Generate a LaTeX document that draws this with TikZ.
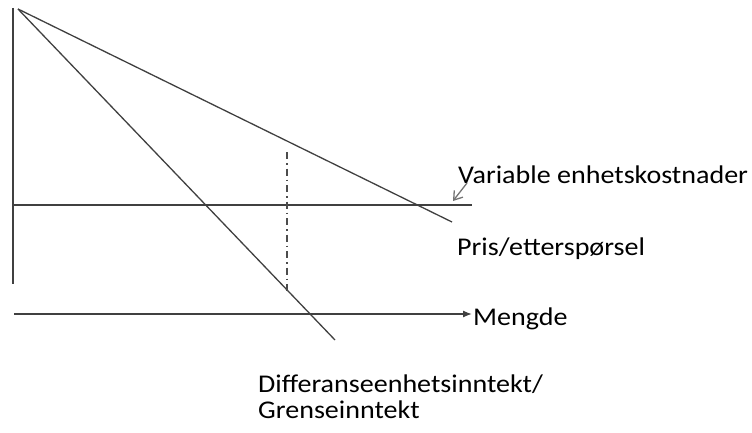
\documentclass[tikz,border=0pt]{standalone}
\usepackage{fontspec}
\setmainfont{Carlito}[FakeStretch=1.1]
\usetikzlibrary{arrows.meta}
\begin{document}
\begin{tikzpicture}[x=1pt,y=-1pt,
  ln/.style={draw=black!75,line width=1.3pt},
  lbl/.style={anchor=base west,inner sep=0pt,font=\fontsize{25.5}{26}\selectfont},
  dd/.style={draw=black!70,line width=1.2pt,dash pattern=on 7pt off 4pt on 1.5pt off 4pt}]
\useasboundingbox (0,0) rectangle (752,433);
\coordinate (vtop) at (13,8);
\coordinate (vbot) at (13,284);
\coordinate (o) at (18,9);
\coordinate (pe) at (452,222);
\coordinate (de) at (335,340);
\coordinate (hl) at (13,205);
\coordinate (hr) at (472,205);
\coordinate (ml) at (14,314);
\coordinate (mr) at (472,314);
\coordinate (dt) at (287,152);
\coordinate (db) at (287,292);
\draw[ln] (vtop) -- (vbot);
\draw[ln] (o) -- (pe);
\draw[ln] (o) -- (de);
\draw[ln] (hl) -- (hr);
\draw[ln,-{Latex[length=9pt,width=7pt]}] (ml) -- (mr);
\draw[dd] (dt) -- (db);
\node[lbl] (var) at (458,183) {Variable enhetskostnader};
\node[lbl] (pris) at (457,255) {Pris/etterspørsel};
\node[lbl] (meng) at (473,325) {Mengde};
\node[lbl] (diff) at (258,392) {Differanseenhetsinntekt/};
\node[lbl] (gr) at (258,418) {Grenseinntekt};
\coordinate (ah) at (453,201);
\draw[draw=black!55,line width=1.3pt,-{Straight Barb[length=8pt,width=11pt]}] (467,183) -- (ah);
\end{tikzpicture}
\end{document}
